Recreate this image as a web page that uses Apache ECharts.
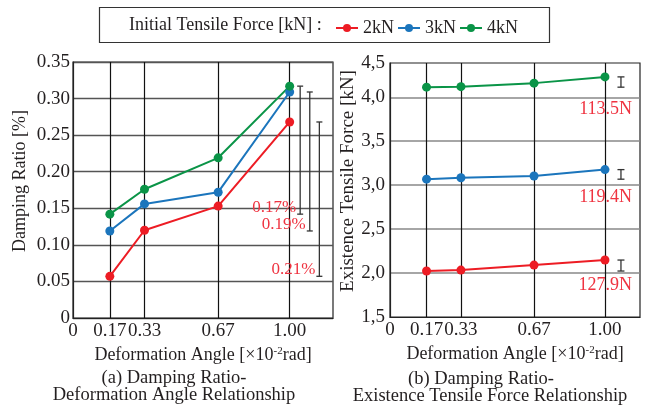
<!DOCTYPE html>
<html><head><meta charset="utf-8">
<script src="https://cdn.jsdelivr.net/npm/echarts@6/dist/echarts.min.js"></script>
<style>html,body{margin:0;padding:0;background:#fff}#c{width:652px;height:408px}</style>
</head><body><div id="c"></div>
<script>
// ---- data ----
const angles = [0.17, 0.33, 0.67, 1.00];
const xTickValues = [0, 0.17, 0.33, 0.67, 1.00];
const seriesNames = ['2kN', '3kN', '4kN'];
const damping2kN = [0.057, 0.120, 0.153, 0.268];
const damping3kN = [0.119, 0.156, 0.172, 0.309];
const damping4kN = [0.142, 0.176, 0.219, 0.317];
const dampingRangeLabels = ['0.17%', '0.19%', '0.21%'];   // 4kN, 3kN, 2kN
const tension2kN = [2.023, 2.034, 2.091, 2.148];
const tension3kN = [3.068, 3.085, 3.104, 3.177];
const tension4kN = [4.115, 4.121, 4.161, 4.232];
const tensionRangeLabels = ['127.9N', '119.4N', '113.5N']; // 2kN, 3kN, 4kN
const tensionTicks = [1.5, 2.0, 2.5, 3.0, 3.5, 4.0];
const tensionTopLabel = '4,5';
const legendTitle = 'Initial Tensile Force [kN] :';
const yNameLeft = 'Damping Ratio [%]';
const yNameRight = 'Existence Tensile Force [kN]';
const captionA = ['(a) Damping Ratio-', 'Deformation Angle Relationship'];
const captionB = ['(b) Damping Ratio-', 'Existence Tensile Force Relationship'];

// ---- style ----
const SERIF = '"Liberation Serif","Times New Roman",serif';
const colors = ['#ed1c24', '#1b75bc', '#0a9447'];
const annColor = '#ef3340';
const txt = '#231f20';

const chart = echarts.init(document.getElementById('c'), null, {renderer: 'canvas'});

function pair(xs, ys) { return xs.map((x, i) => [x, ys[i]]); }
const dampSets = [damping2kN, damping3kN, damping4kN];
const tensSets = [tension2kN, tension3kN, tension4kN];

const lineSeries = [];
seriesNames.forEach((n, k) => {
  lineSeries.push({
    name: n, type: 'line', xAxisIndex: 0, yAxisIndex: 0,
    data: pair(angles, dampSets[k]), symbol: 'circle', symbolSize: 9,
    itemStyle: {color: colors[k]}, lineStyle: {width: 2, color: colors[k]}, z: 5
  });
  lineSeries.push({
    name: n, type: 'line', xAxisIndex: 1, yAxisIndex: 1,
    data: pair(angles, tensSets[k]), symbol: 'circle', symbolSize: 9,
    itemStyle: {color: colors[k]}, lineStyle: {width: 2, color: colors[k]}, z: 5
  });
});

const lastX = angles[angles.length - 1];
const dampRangeData = [2, 1, 0].map((k, i) => [i, Math.min(...dampSets[k]), Math.max(...dampSets[k])]);
const tensRangeData = [0, 1, 2].map((k, i) => [i, Math.min(...tensSets[k]), Math.max(...tensSets[k])]);

function barShapes(x, yTop, yBot, hw, color, lw) {
  return [
    {type: 'line', shape: {x1: x, y1: yTop, x2: x, y2: yBot}, style: {stroke: color, lineWidth: lw}},
    {type: 'line', shape: {x1: x - hw, y1: yTop, x2: x + hw, y2: yTop}, style: {stroke: color, lineWidth: lw}},
    {type: 'line', shape: {x1: x - hw, y1: yBot, x2: x + hw, y2: yBot}, style: {stroke: color, lineWidth: lw}}
  ];
}

const dampRangeSeries = {
  type: 'custom', xAxisIndex: 0, yAxisIndex: 0, silent: true, z: 6,
  data: dampRangeData,
  renderItem(params, api) {
    const i = api.value(0);
    const lo = api.coord([lastX, api.value(1)]);
    const hi = api.coord([lastX, api.value(2)]);
    const x = lo[0] + 10.5 + 9.6 * i;
    const children = barShapes(x, hi[1], lo[1], 3, '#333', 1.3);
    children.push({type: 'text', style: {text: dampingRangeLabels[i], x: x - 4, y: lo[1] + 2,
      align: 'right', verticalAlign: 'bottom', fill: annColor, font: '17px ' + SERIF}});
    return {type: 'group', children};
  }
};

const tensRangeSeries = {
  type: 'custom', xAxisIndex: 1, yAxisIndex: 1, silent: true, z: 6,
  data: tensRangeData,
  renderItem(params, api) {
    const i = api.value(0);
    const lo = api.coord([lastX, api.value(1)]);
    const hi = api.coord([lastX, api.value(2)]);
    const x = lo[0] + 16;
    const children = barShapes(x, hi[1], lo[1], 3.5, '#333', 1.3);
    const gl = api.coord([lastX, Math.floor(api.value(2))]);
    children.push({type: 'text', style: {text: tensionRangeLabels[i], x: lo[0] + 27, y: gl[1] + 12,
      align: 'right', verticalAlign: 'middle', fill: annColor, font: '18px ' + SERIF}});
    return {type: 'group', children};
  }
};

const axisNameRich = {
  sup: {fontSize: 11, fontFamily: SERIF, color: txt, padding: [0, 0, 7, 0]}
};
const xName = 'Deformation Angle [×10{sup|-2}rad]';

function xAxisCfg(max, gridIndex) {
  return {
    type: 'value', gridIndex, min: 0, max,
    name: xName, nameLocation: 'middle', nameGap: 26,
    nameTextStyle: {fontFamily: SERIF, fontSize: 18, color: txt, rich: axisNameRich},
    axisLine: {show: true, lineStyle: {color: '#222', width: 1.2}},
    axisTick: {show: false, customValues: angles},
    axisLabel: {customValues: xTickValues, fontFamily: SERIF, fontSize: 19, color: txt, margin: 4,
      formatter: v => v === 0 ? '0' : v.toFixed(2)},
    splitLine: {show: true, lineStyle: {color: '#111', width: 1.2}}
  };
}

function textEl(x, y, text, size, extra) {
  return Object.assign({type: 'text', x, y, style: {text, font: size + 'px ' + SERIF, fill: txt,
    align: 'center', verticalAlign: 'middle'}}, extra || {});
}

const option = {
  backgroundColor: '#fff',
  animation: false,
  color: colors,
  legend: {
    data: seriesNames, left: 330, top: 14, itemWidth: 22, itemHeight: 10, itemGap: 3,
    textStyle: {fontFamily: SERIF, fontSize: 18, color: txt},
    selectedMode: false
  },
  grid: [
    {left: 73, top: 62, right: 319, bottom: 90, show: true, borderColor: '#222', borderWidth: 1.2},
    {left: 390, top: 63, right: 12, bottom: 91, show: true, borderColor: '#222', borderWidth: 1.2}
  ],
  xAxis: [xAxisCfg(1.2, 0), xAxisCfg(1.163, 1)],
  yAxis: [
    {
      type: 'value', gridIndex: 0, min: 0, max: 0.35, interval: 0.05,
      axisLine: {show: true, lineStyle: {color: '#222', width: 1.2}},
      axisTick: {show: false},
      axisLabel: {fontFamily: SERIF, fontSize: 19, color: txt, margin: 3,
        formatter: v => v === 0 ? '0' : v.toFixed(2)},
      splitLine: {show: true, lineStyle: {color: '#555', width: 1.3}}
    },
    {
      type: 'value', gridIndex: 1, min: 1.5, max: 4.39,
      axisLine: {show: true, lineStyle: {color: '#222', width: 1.2}},
      axisTick: {show: false, customValues: tensionTicks.slice(1)},
      axisLabel: {customValues: tensionTicks.concat([4.39]), fontFamily: SERIF, fontSize: 19, color: txt, margin: 5,
        formatter: v => v > 4.3 ? tensionTopLabel : v.toFixed(1).replace('.', ',')},
      splitLine: {show: true, lineStyle: {color: '#888', width: 1.5}}
    }
  ],
  graphic: [
    {type: 'rect', shape: {x: 99.5, y: 7.5, width: 450, height: 35}, style: {fill: 'none', stroke: '#333', lineWidth: 1.2}},
    {type: 'text', x: 129, y: 25, style: {text: legendTitle, font: '18px ' + SERIF, fill: txt, verticalAlign: 'middle'}},
    textEl(20.5, 181, yNameLeft, 18, {rotation: Math.PI / 2}),
    textEl(348, 181, yNameRight, 19, {rotation: Math.PI / 2}),
    textEl(174, 378, captionA[0], 18.5),
    textEl(174, 395, captionA[1], 18.5),
    textEl(481, 379, captionB[0], 18.5),
    textEl(490, 396.5, captionB[1], 18.5)
  ],
  series: lineSeries.concat([dampRangeSeries, tensRangeSeries])
};
chart.setOption(option);
</script>
</body></html>
